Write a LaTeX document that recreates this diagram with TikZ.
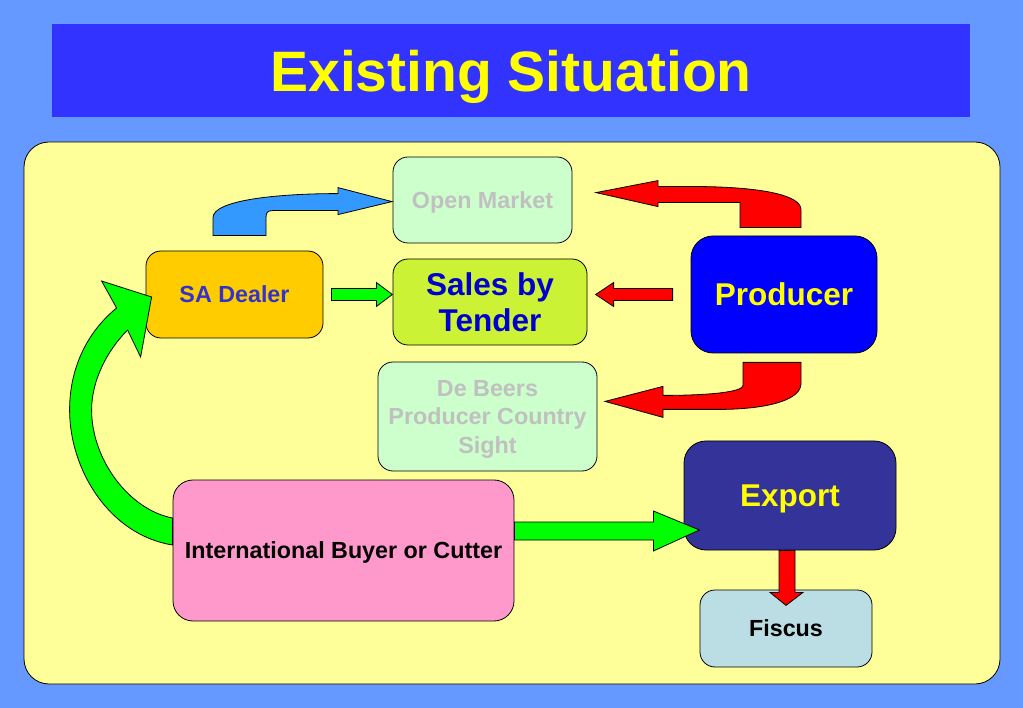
\documentclass[tikz,border=0pt]{standalone}
\usepackage{fontspec}
\setmainfont{Liberation Sans}
\usepackage{tikz}
\usetikzlibrary{shadings}

\definecolor{bgblue}{HTML}{6699FF}
\definecolor{titleblue}{HTML}{3333FF}
\definecolor{titleyellow}{HTML}{FFFF00}
\definecolor{panelyellow}{HTML}{FFFF99}
\definecolor{palegreen}{HTML}{CCFFCC}
\definecolor{greytext}{HTML}{C0C0C0}
\definecolor{dealerfill}{HTML}{FFCC00}
\definecolor{dealertext}{HTML}{3333CC}
\definecolor{tendertext}{HTML}{0000CC}
\definecolor{tenderlime}{HTML}{CCF236}
\definecolor{producerfill}{HTML}{0000FF}
\definecolor{exportfill}{HTML}{333399}
\definecolor{buyerfill}{HTML}{FF99CC}
\definecolor{fiscusfill}{HTML}{BBDEE4}
\definecolor{arrowblue}{HTML}{3399FF}
\definecolor{arrowred}{HTML}{FF0000}
\definecolor{arrowgreen}{HTML}{00FF00}

\tikzset{
	stage/.style={draw, rectangle, rounded corners=15pt, line width=0.8pt, align=center, inner sep=0pt, text depth=0pt},
	smalltext/.style={font=\fontsize{23.3}{28.5}\selectfont\bfseries},
	bigtext/.style={font=\fontsize{31.5}{36}\selectfont\bfseries},
	blockarrow/.style={draw=black, line width=0.8pt, line join=miter}
}

\begin{document}
\begin{tikzpicture}[x=1pt, y=-1pt]
	\fill[bgblue] (0,0) rectangle (1023,708);
	\useasboundingbox (0,0) rectangle (1023,708);
	\fill[titleblue] (52,24) rectangle (970,117);
	\node[anchor=base, text=titleyellow, font=\fontsize{57}{60}\selectfont\bfseries](TITLE) at (511,92){Existing Situation};
	\draw[fill=panelyellow, rounded corners=25pt, line width=0.8pt] (24,142) rectangle (1000,684);
	
	\node[stage, smalltext, fill=dealerfill, text=dealertext, minimum width=177pt, minimum height=87pt](SA) at (234.5,294.5){SA Dealer};
	\node[stage, smalltext, fill=palegreen, text=greytext, minimum width=179pt, minimum height=86pt](OM) at (482.5,200){Open Market};
	\node[stage, bigtext, top color=tenderlime, middle color=yellow, bottom color=tenderlime, text=tendertext, minimum width=194pt, minimum height=86pt](TD) at (490,302){Sales by\\Tender};
	\node[stage, bigtext, right of=SA, node distance=549.5pt, rounded corners=22pt, fill=producerfill, text=titleyellow, minimum width=186pt, minimum height=117pt](PR){Producer};
	\node[stage, smalltext, fill=palegreen, text=greytext, minimum width=219pt, minimum height=109pt](DB) at (487.5,416.5){De Beers\\Producer Country\\Sight};
	\node[stage, bigtext, rounded corners=22pt, fill=exportfill, text=titleyellow, minimum width=212pt, minimum height=109pt](EX) at (790,495.5){Export};
	\node[stage, smalltext, rounded corners=20pt, fill=buyerfill, text=black, minimum width=341pt, minimum height=141pt](IB) at (343.5,550.5){International Buyer or Cutter};
	\node[stage, smalltext, fill=fiscusfill, text=black, minimum width=172pt, minimum height=77pt](FI) at (786,628.5){Fiscus};
	
	% dealer to open market
	\draw[blockarrow, fill=arrowblue, shift={(SA.north)}] (-21.5,-15) -- (-21.5,-33) .. controls (-21.5,-50) and (40,-57) .. (103.5,-57) -- (103.5,-63) -- (157.5,-49) -- (103.5,-36) -- (103.5,-40) -- (38,-40) .. controls (33,-40) and (31.5,-38) .. (31.5,-33) -- (31.5,-15) -- cycle;
	% dealer to tender
	\draw[blockarrow, fill=arrowgreen, shift={(SA.east)}] (8,-6) -- (53,-6) -- (53,-12) -- (69,0) -- (53,12) -- (53,6) -- (8,6) -- cycle;
	
	% producer to open market, tender, sight
	\draw[blockarrow, fill=arrowred, shift={(PR.north)}] (-44,-8) -- (-44,-33) -- (-126,-33) -- (-126,-29) -- (-188,-43) -- (-126,-55) -- (-126,-49) -- (-80,-49) .. controls (-20,-48) and (17,-40) .. (17,-26) -- (17,-8) -- cycle;
	\draw[blockarrow, fill=arrowred, shift={(PR.west)}] (-18,-6) -- (-77,-6) -- (-77,-12) -- (-95,0) -- (-77,12) -- (-77,6) -- (-18,6) -- cycle;
	\draw[blockarrow, fill=arrowred, shift={(PR.south)}] (-41,9) -- (-41,32) .. controls (-41,38) and (-70,42) .. (-121,42) -- (-121,33) -- (-179,48) -- (-121,64) -- (-121,56) -- (-60,56) .. controls (-10,55) and (17,45) .. (17,30) -- (17,9) -- cycle;
	
	% buyer back to dealer
	\draw[blockarrow, fill=arrowgreen, shift={(IB.west)}] (0,-5.5) .. controls (-63,-15.5) and (-103,-80.5) .. (-103,-140.5) .. controls (-103,-185.5) and (-83,-220.5) .. (-56,-242.5) -- (-71,-269.5) -- (-21,-253.5) -- (-32,-193.5) -- (-45,-220.5) .. controls (-65,-200.5) and (-81,-170.5) .. (-81,-140.5) .. controls (-81,-90.5) and (-43,-40.5) .. (0,-32.5) -- cycle;
	% buyer to export
	\draw[blockarrow, fill=arrowgreen, shift={(IB.east)}] (0,-28.5) -- (139,-28.5) -- (139,-39.5) -- (185,-20.5) -- (139,0.5) -- (139,-10.5) -- (0,-10.5) -- cycle;
	% export to fiscus
	\draw[blockarrow, fill=arrowred, shift={(EX.south)}] (-11,0) -- (-11,42) -- (-20,42) -- (-4,55) -- (13,42) -- (5,42) -- (5,0) -- cycle;
\end{tikzpicture}
\end{document}
